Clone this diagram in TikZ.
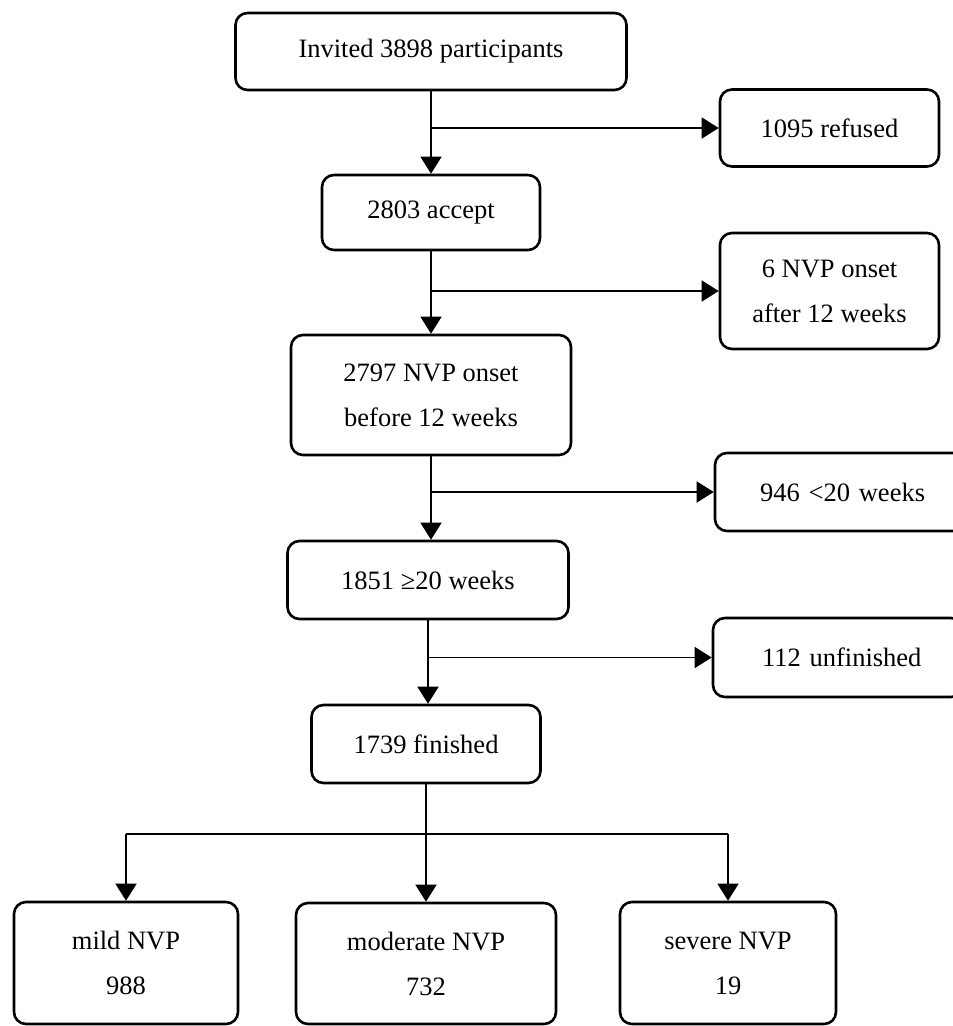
\documentclass[tikz,border=0pt]{standalone}
\usepackage{fontspec}
\setmainfont{Liberation Serif}
\usetikzlibrary{arrows.meta}
\begin{document}
\begin{tikzpicture}[x=1pt,y=-1pt,
  box/.style={draw, line width=2.6pt, rounded corners=12pt, align=center,
    inner sep=0pt, font=\fontsize{26.5}{45}\selectfont},
  conn/.style={line width=1.5pt},
  arr/.style={conn, -{Triangle[length=17pt,width=21pt]}}]
\useasboundingbox (0,0) rectangle (953,1026);
\clip (0,0) rectangle (953,1026);
\node[box, minimum width=391pt, minimum height=77pt] (inv) at (431,51.5) {Invited 3898 participants};
\node[box, minimum width=219pt, minimum height=77pt] (ref) at (829.5,128) {1095 refused};
\node[box, minimum width=218pt, minimum height=75pt] (acc) at (431,212.5) {2803 accept};
\node[box, minimum width=219pt, minimum height=116pt] (aft) at (829.5,291) {6 NVP onset\\after 12 weeks};
\node[box, minimum width=280pt, minimum height=120pt] (bef) at (431,395) {2797 NVP onset\\before 12 weeks};
\node[box, minimum width=250pt, minimum height=78pt, text width=238pt, align=left] (lt) at (840,492) {\hspace*{39pt}946 <20 weeks};
\node[box, minimum width=281pt, minimum height=78pt] (ge) at (428,580) {1851 ≥20 weeks};
\node[box, minimum width=250pt, minimum height=79pt, text width=238pt, align=left] (unf) at (838,657.5) {\hspace*{43pt}112 unfinished};
\node[box, minimum width=229pt, minimum height=78pt] (fin) at (426,744) {1739 finished};
\node[box, minimum width=224pt, minimum height=122pt] (mild) at (126,963) {mild NVP\\988};
\node[box, minimum width=260pt, minimum height=121pt] (mod) at (426,963.5) {moderate NVP\\732};
\node[box, minimum width=216pt, minimum height=122pt] (sev) at (728,963) {severe NVP\\19};
% trunk
\draw[arr] (inv.south) -- (acc.north);
\draw[arr] (acc.south) -- (acc.south |- bef.north);
\draw[arr] (bef.south) -- (bef.south |- ge.north);
\draw[arr] (ge.south) -- (ge.south |- fin.north);
% side branches
\coordinate (b1) at (inv.south |- ref.west);
\coordinate (b2) at (acc.south |- aft.west);
\coordinate (b3) at (bef.south |- lt.west);
\coordinate (b4) at (ge.south |- unf.west);
\draw[arr] (b1) -- (ref.west);
\draw[arr] (b2) -- (aft.west);
\draw[arr] (b3) -- (lt.west);
\draw[arr] (b4) -- (unf.west);
% bottom split
\coordinate (split) at (426,834);
\draw[conn] (fin.south) -- (split);
\draw[conn] (mild.north |- split) -- (sev.north |- split);
\draw[arr] (mild.north |- split) -- (mild.north);
\draw[arr] (split) -- (mod.north);
\draw[arr] (sev.north |- split) -- (sev.north);
\end{tikzpicture}
\end{document}
